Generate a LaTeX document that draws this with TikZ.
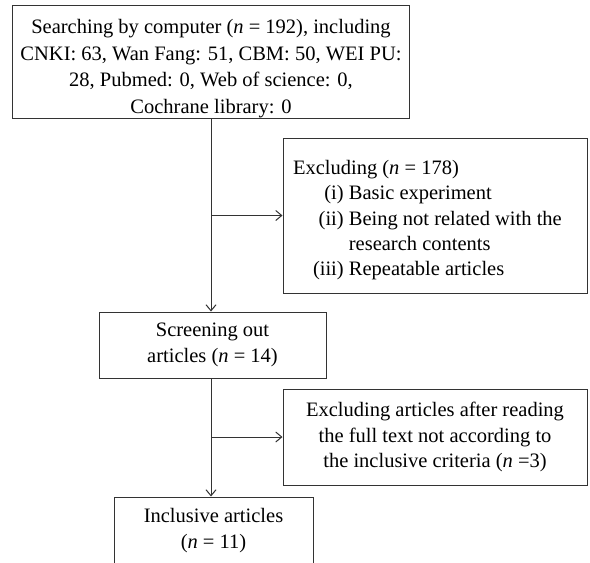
\documentclass[tikz,border=0pt]{standalone}
\usepackage{fontspec}
\setmainfont{Liberation Serif}
\usetikzlibrary{arrows.meta}

\begin{document}
\begin{tikzpicture}[
    x=1pt, y=-1pt,
    box/.style={draw=black!80, line width=1pt, inner sep=0pt, align=center,
                font=\fontsize{20.5}{25.4}\selectfont},
    arr/.style={draw=black!80, line width=1pt, -{Straight Barb[length=6pt,width=10pt]}}
  ]
  \useasboundingbox (0,0) rectangle (590,563);

  \node[box, font=\fontsize{20.5}{26.6}\selectfont,
        minimum width=397pt, minimum height=113pt] (search) at (211,61.5)
    {\raisebox{-6.5pt}[\height][\depth]{\begin{tabular}{@{}c@{}}
       Searching by computer (\textit{n} = 192), including\\
       CNKI: 63, Wan Fang: 51, CBM: 50, WEI PU:\\
       28, Pubmed: 0, Web of science: 0,\\
       Cochrane library: 0
     \end{tabular}}};

  \node[box, minimum width=304pt, minimum height=155pt] (excl) at (435,215.5)
    {\raisebox{-4.5pt}[\height][\depth]{\makebox[284pt][l]{\begin{tabular}{@{\hspace{20pt}}r@{ }l@{}}
       \multicolumn{2}{@{}l@{}}{Excluding (\textit{n} = 178)}\\
       (i)   & Basic experiment\\
       (ii)  & Being not related with the\\
             & research contents\\
       (iii) & Repeatable articles
     \end{tabular}}}};

  \node[box, minimum width=227pt, minimum height=66pt] (screen) at (212.5,345)
    {Screening out\\ articles (\textit{n} = 14)};

  \node[box, minimum width=304pt, minimum height=96pt] (fulltext) at (435,437)
    {Excluding articles after reading\\
     the full text not according to\\
     the inclusive criteria (\textit{n} =3)};

  \node[box, minimum width=199pt, minimum height=67pt] (incl) at (213.5,530.5)
    {Inclusive articles\\ (\textit{n} = 11)};

  % main flow
  \draw[arr] (search.south) -- (search.south |- screen.north);
  \draw[arr] (search.south |- excl.west) -- (excl.west);
  \draw[arr] (search.south |- screen.south) -- (search.south |- incl.north);
  \draw[arr] (search.south |- fulltext.west) -- (fulltext.west);
\end{tikzpicture}
\end{document}
